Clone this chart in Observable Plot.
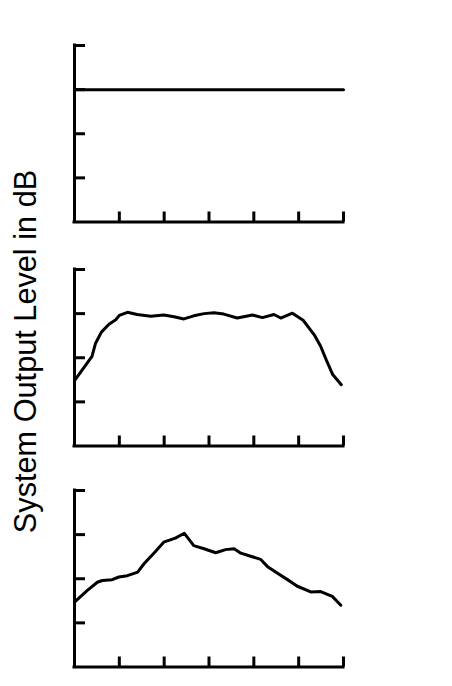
<!DOCTYPE html>
<html><head><meta charset="utf-8">
<script src="https://cdn.jsdelivr.net/npm/d3@7"></script>
<script src="https://cdn.jsdelivr.net/npm/@observablehq/plot@0.6"></script>
<style>
html,body{margin:0;padding:0;background:#fff;}
#chart{position:relative;width:452px;height:686px;overflow:hidden;font-family:"Liberation Sans",Arial,sans-serif;}
#chart svg{position:absolute;left:0;}
</style></head><body><div id="chart"></div>
<script>
const xTicks = [1, 2, 3, 4, 5, 6];
const yTicks = [1, 2, 3, 4];
const yLabel = "System Output Level in dB";

const flatX = [0, 6];
const flatY = [3, 3];

const midX = [0, 0.39, 0.47, 0.6, 0.77, 0.92, 1.0, 1.18, 1.4, 1.7, 1.99, 2.22, 2.44, 2.66, 2.89, 3.11, 3.33, 3.63, 3.97, 4.19, 4.45, 4.6, 4.86, 5.1, 5.25, 5.36, 5.49, 5.62, 5.76, 5.95];
const midY = [1.48, 2.03, 2.33, 2.58, 2.76, 2.86, 2.96, 3.03, 2.98, 2.94, 2.97, 2.93, 2.88, 2.95, 3.0, 3.02, 2.99, 2.9, 2.97, 2.91, 2.98, 2.9, 3.01, 2.85, 2.65, 2.5, 2.26, 1.94, 1.62, 1.39];

const lowX = [0, 0.28, 0.51, 0.62, 0.84, 0.99, 1.18, 1.41, 1.55, 1.77, 1.99, 2.25, 2.45, 2.66, 2.89, 3.15, 3.37, 3.56, 3.71, 3.93, 4.15, 4.3, 4.52, 4.75, 4.97, 5.27, 5.49, 5.75, 5.94];
const lowY = [1.47, 1.73, 1.92, 1.96, 1.98, 2.04, 2.07, 2.15, 2.34, 2.58, 2.83, 2.92, 3.03, 2.75, 2.68, 2.59, 2.66, 2.68, 2.58, 2.51, 2.44, 2.28, 2.13, 1.98, 1.83, 1.7, 1.71, 1.6, 1.4];

const panels = [
  {xs: flatX, ys: flatY, top: 35},
  {xs: midX, ys: midY, top: 258.8},
  {xs: lowX, ys: lowY, top: 480.2}
];

const chart = document.getElementById("chart");

for (const p of panels) {
  const data = p.xs.map((x, i) => ({x, y: p.ys[i]}));
  const svg = Plot.plot({
    width: 452,
    height: 200,
    marginTop: 10,
    marginBottom: 13.5,
    marginLeft: 74,
    marginRight: 109,
    style: {background: "transparent"},
    x: {domain: [0, 6]},
    y: {domain: [0, 4]},
    marks: [
      Plot.line(data, {x: "x", y: "y", stroke: "black", strokeWidth: 3, strokeLinejoin: "round"}),
      Plot.axisY(yTicks, {anchor: "left", tickSize: 11, insetLeft: 11, fill: "none", label: null, stroke: "black", strokeWidth: 3}),
      Plot.axisX(xTicks, {anchor: "bottom", tickSize: 10, insetBottom: 10, fill: "none", label: null, stroke: "black", strokeWidth: 3}),
      Plot.ruleX([0], {stroke: "black", strokeWidth: 3, strokeLinecap: "square"}),
      Plot.ruleY([0], {stroke: "black", strokeWidth: 3, strokeLinecap: "square"})
    ]
  });
  svg.style.top = p.top + "px";
  chart.appendChild(svg);
}

const lab = d3.create("svg")
  .attr("width", 74).attr("height", 686)
  .style("top", "0px");
lab.append("text")
  .attr("transform", "translate(35.5,351.5) rotate(-90)")
  .attr("text-anchor", "middle")
  .attr("font-family", "Liberation Sans, Arial, sans-serif")
  .attr("font-size", 30.7)
  .attr("fill", "black")
  .text(yLabel);
chart.appendChild(lab.node());
</script>
</body></html>
